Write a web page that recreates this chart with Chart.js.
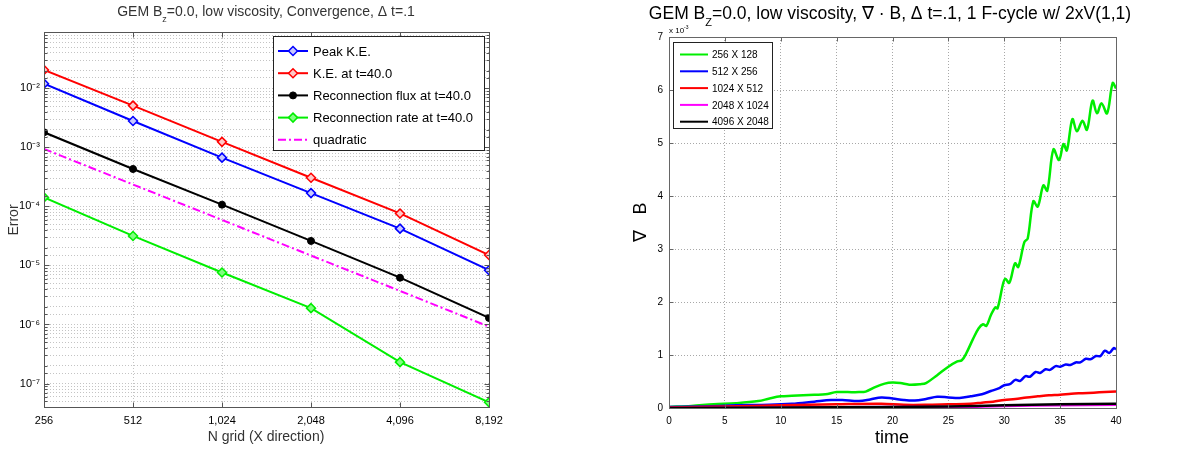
<!DOCTYPE html>
<html>
<head>
<meta charset="utf-8">
<script src="https://cdn.jsdelivr.net/npm/chart.js@4/dist/chart.umd.min.js"></script>
<style>
  html, body { margin: 0; padding: 0; background: #fff; }
  #left { position: absolute; left: 0; top: 0; }
  #right { position: absolute; left: 600px; top: 0; }
</style>
</head>
<body>
<canvas id="left" width="560" height="451"></canvas>
<canvas id="right" width="577" height="451"></canvas>
<script>
// ---- left panel: convergence (log-log) ----
const gridN = [256, 512, 1024, 2048, 4096, 8192];
const peakKE = [0.012, 0.0028, 6.7e-4, 1.68e-4, 4.2e-5, 8.3e-6];
const keAt40 = [0.0205, 5.1e-3, 1.24e-3, 3.06e-4, 7.6e-5, 1.5e-5];
const fluxAt40 = [1.8e-3, 4.3e-4, 1.07e-4, 2.6e-5, 6.2e-6, 1.29e-6];
const rateAt40 = [1.42e-4, 3.16e-5, 7.6e-6, 1.89e-6, 2.3e-7, 4.8e-8];
const quadratic = [9.4e-4, 2.35e-4, 5.9e-5, 1.47e-5, 3.7e-6, 9.2e-7];

// ---- right panel: div B vs time (units of 1e-3) ----
const t256 = [0, 2, 4, 6, 8, 9, 10, 11, 12, 13, 14, 15, 16, 17, 17.6, 18.5, 19.3, 20, 20.7, 21.5, 22.5, 23, 24, 25, 25.8, 26.2, 26.6, 27.2, 27.7, 28.1, 28.4, 28.8, 29.2, 29.4, 29.9, 30.1, 30.45, 30.96, 31.25, 31.8, 32.1, 32.6, 33.0, 33.5, 33.85, 34.4, 34.9, 35.3, 35.6, 36.1, 36.5, 37.0, 37.4, 37.9, 38.3, 38.7, 39.2, 39.7, 40];
const v256 = [0.02, 0.04, 0.07, 0.09, 0.13, 0.18, 0.22, 0.23, 0.24, 0.25, 0.26, 0.3, 0.3, 0.3, 0.31, 0.4, 0.46, 0.48, 0.47, 0.44, 0.45, 0.47, 0.62, 0.78, 0.88, 0.9, 1.03, 1.3, 1.5, 1.58, 1.55, 1.75, 1.9, 1.88, 2.35, 2.44, 2.36, 2.73, 2.66, 3.13, 3.2, 3.9, 3.8, 4.2, 4.1, 4.88, 4.68, 4.98, 4.86, 5.45, 5.22, 5.42, 5.25, 5.8, 5.56, 5.75, 5.56, 6.13, 6.03];
const t512 = [0, 3, 6, 9, 11, 13, 14.5, 15.5, 17, 18, 19, 20, 21, 22, 23, 24, 25, 26, 27, 28, 28.8, 29.5, 30, 30.5, 31, 31.4, 31.9, 32.3, 32.8, 33.2, 33.7, 34.1, 34.6, 35, 35.5, 35.9, 36.4, 36.8, 37.3, 37.7, 38.2, 38.6, 39, 39.4, 39.8, 40];
const v512 = [0.02, 0.03, 0.05, 0.06, 0.08, 0.12, 0.15, 0.15, 0.13, 0.16, 0.2, 0.18, 0.15, 0.14, 0.17, 0.21, 0.2, 0.19, 0.22, 0.26, 0.32, 0.37, 0.43, 0.45, 0.53, 0.51, 0.6, 0.59, 0.68, 0.66, 0.73, 0.72, 0.79, 0.78, 0.82, 0.81, 0.86, 0.86, 0.93, 0.92, 0.98, 0.98, 1.08, 1.04, 1.13, 1.11];
const t1024 = [0, 5, 10, 15, 19, 21, 23, 25, 27, 28, 29, 30, 31, 32, 33, 34, 35, 36, 37, 38, 39, 40];
const v1024 = [0.01, 0.03, 0.05, 0.07, 0.08, 0.06, 0.06, 0.07, 0.08, 0.1, 0.12, 0.15, 0.17, 0.2, 0.22, 0.24, 0.25, 0.27, 0.28, 0.29, 0.3, 0.31];
const t2048 = [0, 10, 20, 26, 30, 35, 40];
const v2048 = [0.0, 0.01, 0.02, 0.02, 0.04, 0.05, 0.06];
const t4096 = [0, 10, 20, 25, 30, 35, 40];
const v4096 = [0.0, 0.01, 0.02, 0.03, 0.05, 0.07, 0.08];

const timeTicks = [0, 5, 10, 15, 20, 25, 30, 35, 40];

const FONT = '"Liberation Sans", Arial, sans-serif';
const SUP = { '-': '\u207B', '0': '\u2070', '1': '\u00B9', '2': '\u00B2', '3': '\u00B3', '4': '\u2074', '5': '\u2075', '6': '\u2076', '7': '\u2077', '8': '\u2078', '9': '\u2079' };
const sup = s => String(s).split('').map(c => SUP[c] || c).join('');
const isDecade = v => { const e = Math.log10(v); return Math.abs(e - Math.round(e)) < 1e-6; };

function pts(xs, ys) { return xs.map((x, i) => ({ x: x, y: ys[i] })); }

// text with sub/superscript parts: [[text, 'sub'|'sup'|null], ...]
function richText(ctx, parts, x, y, size, color, align) {
  const sizes = parts.map(p => p[1] ? Math.round(size * 0.65) : size);
  let w = 0;
  parts.forEach((p, i) => { ctx.font = sizes[i] + 'px ' + FONT; w += ctx.measureText(p[0]).width; });
  let cx = align === 'center' ? x - w / 2 : x;
  ctx.fillStyle = color;
  ctx.textAlign = 'left';
  ctx.textBaseline = 'alphabetic';
  parts.forEach((p, i) => {
    ctx.font = sizes[i] + 'px ' + FONT;
    const dy = p[1] === 'sub' ? size * 0.4 : p[1] === 'sup' ? -size * 0.45 : 0;
    ctx.fillText(p[0], cx, y + dy);
    cx += ctx.measureText(p[0]).width;
  });
}

function drawMarker(ctx, ds, x, y) {
  const r = ds.pointRadius;
  ctx.save();
  ctx.fillStyle = ds.pointBackgroundColor || ds.borderColor;
  ctx.strokeStyle = ds.borderColor;
  ctx.lineWidth = ds.pointBorderWidth || 1;
  ctx.beginPath();
  if (ds.pointStyle === 'rectRot') {
    ctx.moveTo(x, y - r); ctx.lineTo(x + r, y); ctx.lineTo(x, y + r); ctx.lineTo(x - r, y); ctx.closePath();
  } else {
    ctx.arc(x, y, r, 0, Math.PI * 2);
  }
  ctx.fill();
  ctx.stroke();
  ctx.restore();
}

// box around the plot with small inward tick marks (MATLAB style)
function drawBox(chart, color, tickLen, minorLen) {
  const a = chart.chartArea, ctx = chart.ctx;
  const L = Math.round(a.left) + 0.5, T = Math.round(a.top) + 0.5;
  const R = Math.round(a.right) + 0.5, B = Math.round(a.bottom) + 0.5;
  ctx.save();
  ctx.strokeStyle = color;
  ctx.lineWidth = 1;
  ctx.beginPath();
  chart.scales.x.ticks.forEach(t => {
    const px = Math.round(chart.scales.x.getPixelForValue(t.value)) + 0.5;
    ctx.moveTo(px, B); ctx.lineTo(px, B - tickLen);
    ctx.moveTo(px, T); ctx.lineTo(px, T + tickLen);
  });
  chart.scales.y.ticks.forEach(t => {
    const py = Math.round(chart.scales.y.getPixelForValue(t.value)) + 0.5;
    const len = (chart.scales.y.type === 'logarithmic' && !isDecade(t.value)) ? minorLen : tickLen;
    ctx.moveTo(L, py); ctx.lineTo(L + len, py);
    ctx.moveTo(R, py); ctx.lineTo(R - len, py);
  });
  ctx.stroke();
  ctx.strokeRect(L, T, R - L, B - T);
  ctx.restore();
}

function drawLegend(chart, box, rowY, rowH, lineX0, lineX1, textX, fontSize, withMarkers) {
  const ctx = chart.ctx;
  ctx.save();
  ctx.fillStyle = '#fff';
  ctx.fillRect(box[0], box[1], box[2], box[3]);
  ctx.strokeStyle = '#222';
  ctx.lineWidth = 1;
  ctx.strokeRect(box[0] + 0.5, box[1] + 0.5, box[2], box[3]);
  chart.data.datasets.forEach((ds, i) => {
    const y = rowY + i * rowH;
    ctx.strokeStyle = ds.borderColor;
    ctx.lineWidth = ds.legendWidth || ds.borderWidth;
    ctx.setLineDash(ds.borderDash || []);
    ctx.beginPath(); ctx.moveTo(lineX0, y); ctx.lineTo(lineX1, y); ctx.stroke();
    ctx.setLineDash([]);
    if (withMarkers && ds.pointRadius > 0) drawMarker(ctx, ds, (lineX0 + lineX1) / 2, y);
    ctx.fillStyle = '#000';
    ctx.font = fontSize + 'px ' + FONT;
    ctx.textAlign = 'left';
    ctx.textBaseline = 'middle';
    ctx.fillText(ds.label, textX, y + 1);
  });
  ctx.restore();
}

const leftDeco = {
  id: 'leftDeco',
  afterDraw(chart) {
    const ctx = chart.ctx;
    drawBox(chart, '#555', 5, 3);
    richText(ctx, [['GEM B', null], ['z', 'sub'], ['=0.0, low viscosity, Convergence, \u0394 t=.1', null]], 266, 16, 14, '#333', 'center');
    ctx.save();
    ctx.fillStyle = '#333';
    ctx.font = '14px ' + FONT;
    ctx.textAlign = 'center';
    ctx.textBaseline = 'middle';
    ctx.fillText('N grid (X direction)', 266, 437);
    ctx.translate(14, 220);
    ctx.rotate(-Math.PI / 2);
    ctx.fillText('Error', 0, 0);
    ctx.restore();
    drawLegend(chart, [273, 36, 211, 114], 51, 22.2, 278, 308, 313, 13, true);
  }
};

const rightDeco = {
  id: 'rightDeco',
  afterDraw(chart) {
    const ctx = chart.ctx;
    drawBox(chart, '#666', 4, 4);
    richText(ctx, [['GEM B', null], ['Z', 'sub'], ['=0.0, low viscosity, \u2207 \u00B7 B, \u0394 t=.1, 1 F-cycle w/ 2xV(1,1)', null]], 290, 19, 17.5, '#000', 'center');
    richText(ctx, [['x 10', null], ['-3', 'sup']], 69, 33, 8, '#000', 'left');
    ctx.save();
    ctx.fillStyle = '#000';
    ctx.font = '18px ' + FONT;
    ctx.textAlign = 'center';
    ctx.textBaseline = 'middle';
    ctx.fillText('time', 292, 438);
    ctx.translate(41, 222);
    ctx.rotate(-Math.PI / 2);
    ctx.fillText('\u2207   B', 0, 0);
    ctx.restore();
    drawLegend(chart, [73, 42, 99, 86], 54.5, 16.8, 80, 108, 112, 10, false);
  }
};

const logGrid = { color: '#c4c4c4', drawTicks: false, lineWidth: 1 };

new Chart(document.getElementById('left'), {
  type: 'line',
  data: {
    datasets: [
      { label: 'Peak K.E.', data: pts(gridN, peakKE), borderColor: '#0000ff', pointBackgroundColor: '#c8c8ff', pointStyle: 'rectRot', pointRadius: 4.5, pointBorderWidth: 1.5, borderWidth: 2, order: 2 },
      { label: 'K.E. at t=40.0', data: pts(gridN, keAt40), borderColor: '#ff0000', pointBackgroundColor: '#ffc8c8', pointStyle: 'rectRot', pointRadius: 4.5, pointBorderWidth: 1.5, borderWidth: 2, order: 1 },
      { label: 'Reconnection flux at t=40.0', data: pts(gridN, fluxAt40), borderColor: '#000000', pointBackgroundColor: '#000000', pointStyle: 'circle', pointRadius: 3.5, pointBorderWidth: 1, borderWidth: 2, order: 3 },
      { label: 'Reconnection rate at t=40.0', data: pts(gridN, rateAt40), borderColor: '#00ee00', pointBackgroundColor: '#80ff80', pointStyle: 'rectRot', pointRadius: 4.5, pointBorderWidth: 1.5, borderWidth: 2, order: 4 },
      { label: 'quadratic', data: pts(gridN, quadratic), borderColor: '#ff00ff', borderDash: [8, 3, 2, 3], pointRadius: 0, borderWidth: 2, order: 5 }
    ]
  },
  options: {
    responsive: false,
    animation: false,
    layout: { padding: { left: 0, top: 32, right: 71, bottom: 0 } },
    plugins: { legend: { display: false }, tooltip: { enabled: false } },
    scales: {
      x: {
        type: 'logarithmic', min: 256, max: 8192,
        afterBuildTicks: s => { s.ticks = gridN.map(v => ({ value: v })); },
        afterFit: s => { s.height = 44; },
        ticks: { callback: v => Number(v).toLocaleString('en-US'), autoSkip: false, maxRotation: 0, padding: 7, color: '#000', font: { family: FONT, size: 11 } },
        grid: logGrid,
        border: { display: false, dash: [1, 2] }
      },
      y: {
        type: 'logarithmic', min: 4e-8, max: 0.09,
        afterFit: s => { s.width = 44; },
        ticks: {
          callback: v => isDecade(v) ? '10' + sup(Math.round(Math.log10(v))) : '',
          autoSkip: false, padding: 4, color: '#000', font: { family: FONT, size: 11 }
        },
        grid: logGrid,
        border: { display: false, dash: [1, 2] }
      }
    }
  },
  plugins: [leftDeco]
});

new Chart(document.getElementById('right'), {
  type: 'line',
  data: {
    datasets: [
      { label: '256 X 128', data: pts(t256, v256), borderColor: '#00ee00', borderWidth: 2.5, legendWidth: 2, pointRadius: 0, tension: 0.35, order: 5 },
      { label: '512 X 256', data: pts(t512, v512), borderColor: '#0000ff', borderWidth: 2.5, legendWidth: 2, pointRadius: 0, tension: 0.35, order: 4 },
      { label: '1024 X 512', data: pts(t1024, v1024), borderColor: '#ff0000', borderWidth: 2.5, legendWidth: 2, pointRadius: 0, tension: 0.35, order: 3 },
      { label: '2048 X 1024', data: pts(t2048, v2048), borderColor: '#ff00ff', borderWidth: 2.5, legendWidth: 2, pointRadius: 0, tension: 0.35, order: 2 },
      { label: '4096 X 2048', data: pts(t4096, v4096), borderColor: '#000000', borderWidth: 2.5, legendWidth: 2, pointRadius: 0, tension: 0.35, order: 1 }
    ]
  },
  options: {
    responsive: false,
    animation: false,
    layout: { padding: { left: 0, top: 37, right: 61, bottom: 0 } },
    plugins: { legend: { display: false }, tooltip: { enabled: false } },
    scales: {
      x: {
        type: 'linear', min: 0, max: 40,
        afterBuildTicks: s => { s.ticks = timeTicks.map(v => ({ value: v })); },
        afterFit: s => { s.height = 43; },
        ticks: { autoSkip: false, maxRotation: 0, padding: 7, color: '#000', font: { family: FONT, size: 10 } },
        grid: { color: '#a8a8a8', drawTicks: false },
        border: { display: false, dash: [1, 2] }
      },
      y: {
        type: 'linear', min: 0, max: 7,
        afterFit: s => { s.width = 69; },
        ticks: { stepSize: 1, padding: 6, color: '#000', font: { family: FONT, size: 10 } },
        grid: { color: '#a8a8a8', drawTicks: false },
        border: { display: false, dash: [1, 2] }
      }
    }
  },
  plugins: [rightDeco]
});
</script>
</body>
</html>
